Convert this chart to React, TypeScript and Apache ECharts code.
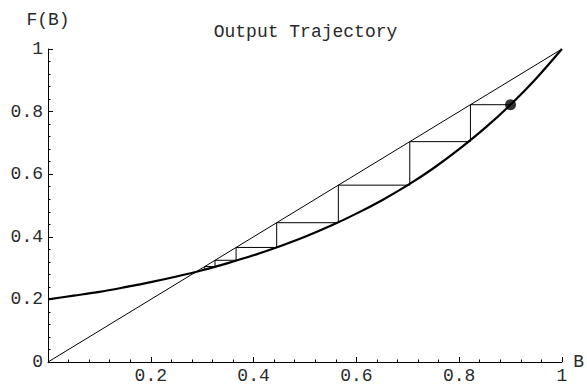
import React, { useEffect, useRef } from "react";
import * as echarts from "echarts";

// Sampled map F(B) on [0, 1]
const B_SAMPLES = [0, 0.05, 0.1, 0.15, 0.2, 0.25, 0.3, 0.35, 0.4, 0.45, 0.5, 0.55, 0.6, 0.65, 0.7, 0.75, 0.8, 0.85, 0.9, 0.95, 1];
const F_SAMPLES = [0.2, 0.212, 0.224, 0.239, 0.255, 0.273, 0.293, 0.316, 0.341, 0.369, 0.4, 0.435, 0.474, 0.517, 0.565, 0.619, 0.68, 0.747, 0.822, 0.906, 1];

// Iterates B_n of the trajectory, starting at B_0 = 0.9
const ORBIT = [0.9, 0.822, 0.704, 0.565, 0.445, 0.366, 0.325, 0.305, 0.296];

// Identity line B = F(B)
const DIAGONAL = [
  [0, 0],
  [1, 1],
];

const X_TICK_LABELS = ["", "0.2", "0.4", "0.6", "0.8", "1"];
const Y_TICK_LABELS = ["0", "0.2", "0.4", "0.6", "0.8", "1"];

const FONT = "'Liberation Mono', 'Courier New', monospace";
const INK = "#000";
const TEXT = "#2a2a2a";

export default function App() {
  const ref = useRef<HTMLDivElement>(null);

  useEffect(() => {
    if (!ref.current) return;
    const chart = echarts.init(ref.current, undefined, { renderer: "svg" });

    const curve = B_SAMPLES.map((b, i) => [b, F_SAMPLES[i]]);

    // Cobweb: from (B0, B1) across to the diagonal, then down to the curve, repeatedly
    const cobweb: number[][] = [[ORBIT[0], ORBIT[1]]];
    for (let i = 1; i < ORBIT.length - 1; i++) {
      cobweb.push([ORBIT[i], ORBIT[i]]);
      cobweb.push([ORBIT[i], ORBIT[i + 1]]);
    }

    const tickLabel = (labels: string[]) => (v: number) => labels[Math.round(v / 0.2)] ?? "";

    const axisCommon = {
      type: "value" as const,
      min: 0,
      max: 1,
      interval: 0.2,
      splitLine: { show: false },
      axisLine: { show: true, onZero: false, lineStyle: { color: INK, width: 1 } },
      axisTick: { show: true, inside: true, length: 5, lineStyle: { color: INK, width: 1 } },
      minorTick: { show: true, splitNumber: 5, length: 2.5, lineStyle: { color: INK, width: 1 } },
      nameTextStyle: { fontFamily: FONT, fontSize: 18, color: TEXT },
    };

    chart.setOption({
      animation: false,
      backgroundColor: "#fff",
      title: {
        text: "Output Trajectory",
        left: 305.5,
        top: 23,
        padding: 0,
        textAlign: "center",
        textStyle: { fontFamily: FONT, fontSize: 18, fontWeight: "normal", color: TEXT },
      },
      grid: { left: 48, right: 24, top: 49, bottom: 22, containLabel: false },
      xAxis: {
        ...axisCommon,
        name: "B",
        nameLocation: "end",
        nameGap: 10,
        axisLabel: {
          fontFamily: FONT,
          fontSize: 18,
          color: TEXT,
          margin: 5,
          formatter: tickLabel(X_TICK_LABELS),
        },
      },
      yAxis: {
        ...axisCommon,
        name: "F(B)",
        nameLocation: "end",
        nameGap: 20,
        axisLabel: {
          fontFamily: FONT,
          fontSize: 18,
          color: TEXT,
          margin: 5,
          formatter: tickLabel(Y_TICK_LABELS),
        },
      },
      series: [
        {
          type: "line",
          data: DIAGONAL,
          showSymbol: false,
          silent: true,
          lineStyle: { color: INK, width: 1 },
          z: 2,
        },
        {
          type: "line",
          data: cobweb,
          showSymbol: false,
          silent: true,
          lineStyle: { color: INK, width: 1 },
          z: 3,
        },
        {
          type: "line",
          data: curve,
          smooth: 0.3,
          showSymbol: false,
          silent: true,
          lineStyle: { color: INK, width: 2.2 },
          z: 4,
        },
        {
          type: "scatter",
          data: [[ORBIT[0], ORBIT[1]]],
          symbol: "circle",
          symbolSize: 11,
          silent: true,
          itemStyle: { color: INK },
          z: 5,
        },
      ],
    });

    return () => chart.dispose();
  }, []);

  return (
    <div
      ref={ref}
      style={{ position: "fixed", left: 0, top: 0, width: 587, height: 385, background: "#fff" }}
    />
  );
}
